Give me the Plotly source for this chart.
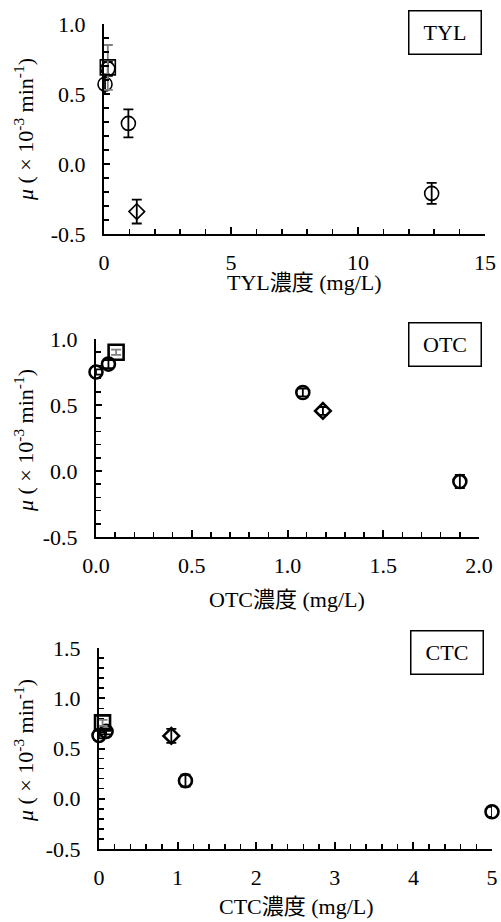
import plotly.graph_objects as go

W, H = 501, 922

# ---------------- data ----------------
tyl_circle_x = [0.04, 0.15, 0.96, 12.9]
tyl_circle_y = [0.57, 0.68, 0.29, -0.21]
tyl_circle_err = [0.07, 0.05, 0.10, 0.075]
tyl_square_x = [0.15]
tyl_square_y = [0.69]
tyl_square_err = [0.16]
tyl_diamond_x = [1.29]
tyl_diamond_y = [-0.34]
tyl_diamond_err = [0.085]

otc_circle_x = [0.0, 0.065, 1.08, 1.90]
otc_circle_y = [0.75, 0.81, 0.595, -0.08]
otc_circle_err = [0.02, 0.03, 0.03, 0.05]
otc_square_x = [0.105]
otc_square_y = [0.90]
otc_square_err = [0.02]
otc_diamond_x = [1.185]
otc_diamond_y = [0.455]
otc_diamond_err = [0.03]

ctc_circle_x = [0.0, 0.09, 1.1, 5.0]
ctc_circle_y = [0.63, 0.67, 0.18, -0.13]
ctc_circle_err = [0.03, 0.03, 0.06, 0.05]
ctc_square_x = [0.045]
ctc_square_y = [0.755]
ctc_square_err = [0.03]
ctc_diamond_x = [0.92]
ctc_diamond_y = [0.625]
ctc_diamond_err = [0.07]

panel_labels = ["TYL", "OTC", "CTC"]
x_titles = ["TYL濃度 (mg/L)", "OTC濃度 (mg/L)", "CTC濃度 (mg/L)"]
y_title = "<i>μ</i> ( × 10<sup>-3</sup> min<sup>-1</sup>)"

x_tickvals = [[0, 5, 10, 15], [0, 0.5, 1.0, 1.5, 2.0], [0, 1, 2, 3, 4, 5]]
x_ticktext = [["0", "5", "10", "15"], ["0.0", "0.5", "1.0", "1.5", "2.0"],
              ["0", "1", "2", "3", "4", "5"]]
y_tickvals = [[-0.5, 0.0, 0.5, 1.0], [-0.5, 0.0, 0.5, 1.0], [-0.5, 0.0, 0.5, 1.0, 1.5]]
y_ticktext = [["-0.5", "0.0", "0.5", "1.0"], ["-0.5", "0.0", "0.5", "1.0"],
              ["-0.5", "0.0", "0.5", "1.0", "1.5"]]
x_ranges = [[0, 15], [0, 2], [0, 5]]
y_ranges = [[-0.5, 1.0], [-0.5, 1.0], [-0.5, 1.5]]
x_minor = [1, 0.1, 0.2]

# ---------------- layout geometry (pixels) ----------------
plot_px = [  # left, right, top, bottom
    (104, 485, 24, 234),
    (96, 479, 339, 537),
    (99, 492, 648, 849),
]
xtitle_pos = [(304, 282), (287, 599), (296, 906)]
ytitle_pos = [(24, 130), (24, 441), (24, 751)]
box_pos = [(444.5, 32), (445, 344.5), (447, 652.5)]

FONT = "Liberation Serif, Times New Roman, Noto Sans CJK JP, serif"
BLACK = "#000000"
GREY = "#808080"

fig = go.Figure()

panels = [
    (tyl_circle_x, tyl_circle_y, tyl_circle_err, tyl_square_x, tyl_square_y, tyl_square_err,
     tyl_diamond_x, tyl_diamond_y, tyl_diamond_err, 14, 15, 12, 1.6),
    (otc_circle_x, otc_circle_y, otc_circle_err, otc_square_x, otc_square_y, otc_square_err,
     otc_diamond_x, otc_diamond_y, otc_diamond_err, 13, 15, 12, 2.6),
    (ctc_circle_x, ctc_circle_y, ctc_circle_err, ctc_square_x, ctc_square_y, ctc_square_err,
     ctc_diamond_x, ctc_diamond_y, ctc_diamond_err, 13, 15, 12, 2.6),
]

for i, p in enumerate(panels):
    (cx, cy, ce, sx, sy, se, dx, dy, de, cs, ss, ds, lw) = p
    xa = "x" if i == 0 else f"x{i+1}"
    ya = "y" if i == 0 else f"y{i+1}"
    for (xs, ys, es, sym, size, ecol) in [
        (cx, cy, ce, "circle-open", cs, BLACK),
        (dx, dy, de, "diamond-open", ds, BLACK),
        (sx, sy, se, "square-open", ss, GREY),
    ]:
        fig.add_trace(go.Scatter(
            x=xs, y=ys, mode="markers", xaxis=xa, yaxis=ya,
            marker=dict(symbol=sym, size=size, color=BLACK, line=dict(width=lw, color=BLACK)),
            error_y=dict(type="data", array=es, visible=True, color=ecol, thickness=1.8, width=5),
            cliponaxis=False, showlegend=False, hoverinfo="x+y",
        ))

layout = dict(
    template="none",
    width=W, height=H, margin=dict(l=0, r=0, t=0, b=0, autoexpand=False),
    paper_bgcolor="white", plot_bgcolor="white",
    font=dict(family=FONT, size=22, color=BLACK),
    showlegend=False,
)

annotations = []
for i in range(3):
    l, r, t, b = plot_px[i]
    sfx = "" if i == 0 else str(i + 1)
    minor_x = dict(ticks="inside", ticklen=5, tickwidth=1.5, tickcolor=BLACK,
                   dtick=x_minor[i], tick0=0, showgrid=False)
    minor_y = dict(ticks="inside", ticklen=5, tickwidth=1.5, tickcolor=BLACK,
                   dtick=0.1, tick0=0, showgrid=False)
    layout["xaxis" + sfx] = dict(
        domain=[l / W, r / W], anchor="y" + sfx, range=x_ranges[i],
        showline=True, linecolor=BLACK, linewidth=2, mirror=False,
        showgrid=False, zeroline=False, automargin=False,
        ticks="inside", ticklen=7, tickwidth=2, tickcolor=BLACK,
        tickmode="array", tickvals=x_tickvals[i], ticktext=x_ticktext[i],
        minor=minor_x,
        ticklabelstandoff=8, tickfont=dict(family=FONT, size=22, color=BLACK),
        fixedrange=True,
    )
    layout["yaxis" + sfx] = dict(
        domain=[1 - b / H, 1 - t / H], anchor="x" + sfx, range=y_ranges[i],
        showline=True, linecolor=BLACK, linewidth=2, mirror=False,
        showgrid=False, zeroline=False, automargin=False,
        ticks="inside", ticklen=6, tickwidth=2, tickcolor=BLACK,
        tickmode="array", tickvals=y_tickvals[i], ticktext=y_ticktext[i],
        minor=minor_y,
        ticklabelstandoff=12, tickfont=dict(family=FONT, size=22, color=BLACK),
        fixedrange=True,
    )
    tx, ty = xtitle_pos[i]
    annotations.append(dict(
        text=x_titles[i], xref="paper", yref="paper", x=tx / W, y=1 - ty / H,
        xanchor="center", yanchor="middle", showarrow=False,
        font=dict(family=FONT, size=22, color=BLACK),
    ))
    yx, yy = ytitle_pos[i]
    annotations.append(dict(
        text=y_title, xref="paper", yref="paper", x=yx / W, y=1 - yy / H,
        xanchor="center", yanchor="middle", showarrow=False, textangle=-90,
        font=dict(family=FONT, size=22, color=BLACK),
    ))
    bx, by = box_pos[i]
    annotations.append(dict(
        text=panel_labels[i], xref="paper", yref="paper", x=bx / W, y=1 - by / H,
        xanchor="center", yanchor="middle", showarrow=False,
        width=67, height=38, borderpad=2, bordercolor=BLACK, borderwidth=1.5,
        bgcolor="white", font=dict(family=FONT, size=22, color=BLACK),
    ))

layout["annotations"] = annotations
fig.update_layout(**layout)

fig.write_html(
    "out.html",
    config={"displayModeBar": False, "staticPlot": True},
    post_script="document.body.style.margin='0';document.body.style.overflow='hidden';",
)
